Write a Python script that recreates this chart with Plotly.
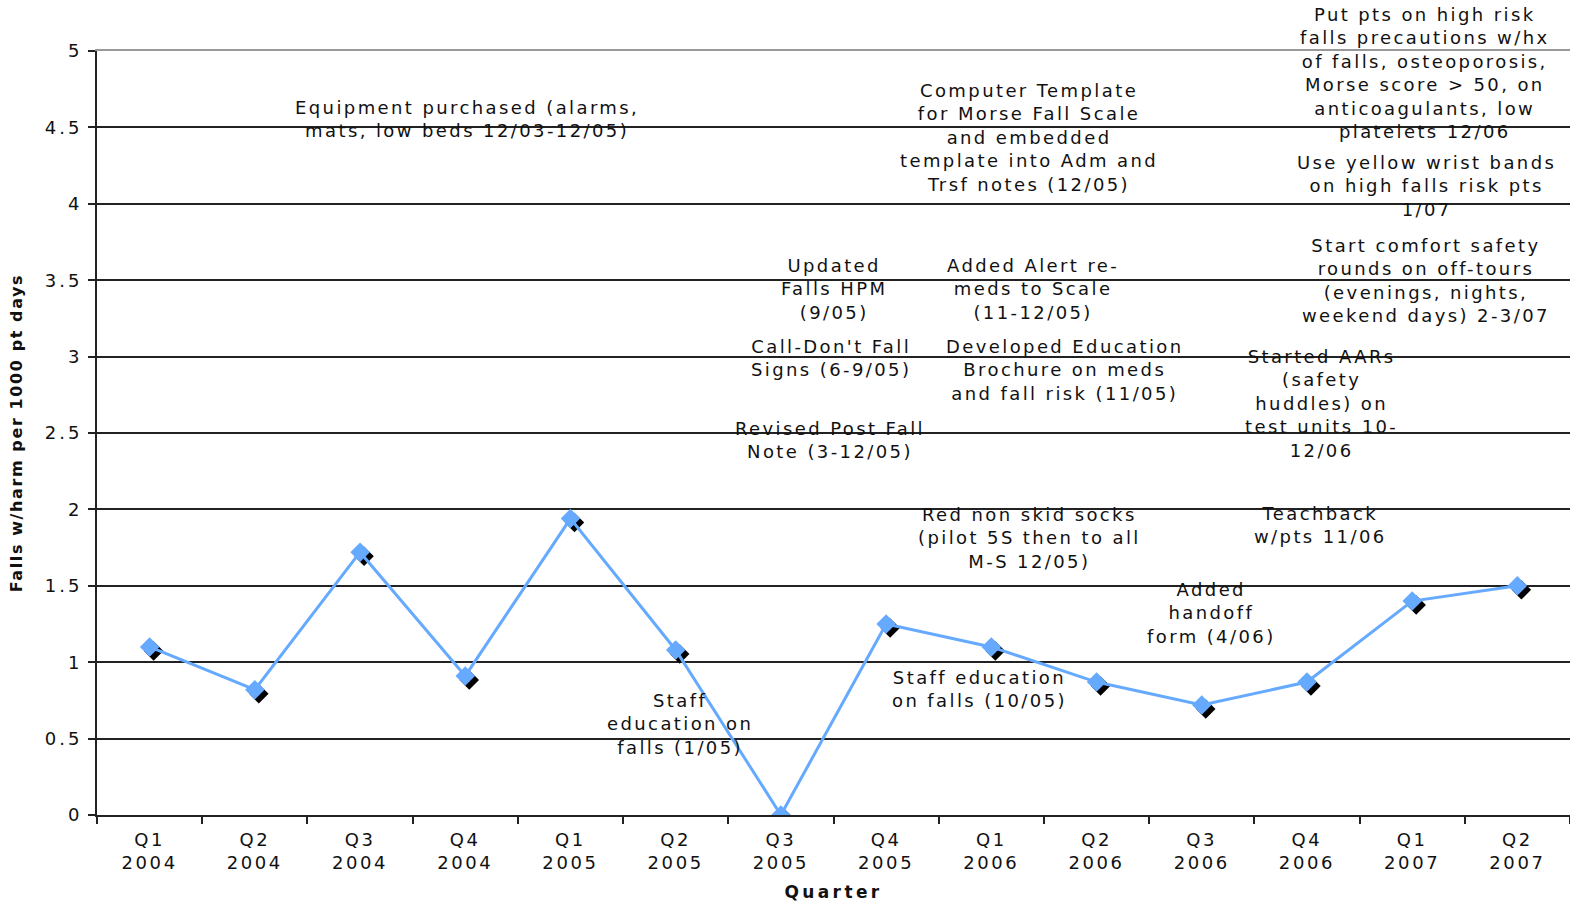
import plotly.graph_objects as go

quarters = ["Q1<br>2004", "Q2<br>2004", "Q3<br>2004", "Q4<br>2004",
            "Q1<br>2005", "Q2<br>2005", "Q3<br>2005", "Q4<br>2005",
            "Q1<br>2006", "Q2<br>2006", "Q3<br>2006", "Q4<br>2006",
            "Q1<br>2007", "Q2<br>2007"]
falls_rate = [1.10, 0.82, 1.72, 0.91, 1.94, 1.08, 0.0, 1.25, 1.10, 0.87, 0.72, 0.87, 1.40, 1.50]
y_ticks = [0, 0.5, 1, 1.5, 2, 2.5, 3, 3.5, 4, 4.5, 5]
y_ticktext = ["0", "0.5", "1", "1.5", "2", "2.5", "3", "3.5", "4", "4.5", "5"]

notes = [
    "Equipment purchased (alarms,<br>mats, low beds 12/03-12/05)",
    "Computer Template<br>for Morse Fall Scale<br>and embedded<br>template into Adm and<br>Trsf notes (12/05)",
    "Put pts on high risk<br>falls precautions w/hx<br>of falls, osteoporosis,<br>Morse score > 50, on<br>anticoagulants, low<br>platelets 12/06",
    "Use yellow wrist bands<br>on high falls risk pts<br>1/07",
    "Start comfort safety<br>rounds on off-tours<br>(evenings, nights,<br>weekend days) 2-3/07",
    "Updated<br>Falls HPM<br>(9/05)",
    "Added Alert re-<br>meds to Scale<br>(11-12/05)",
    "Call-Don't Fall<br>Signs (6-9/05)",
    "Developed Education<br>Brochure on meds<br>and fall risk (11/05)",
    "Revised Post Fall<br>Note (3-12/05)",
    "Started AARs<br>(safety<br>huddles) on<br>test units 10-<br>12/06",
    "Red non skid socks<br>(pilot 5S then to all<br>M-S 12/05)",
    "Teachback<br>w/pts 11/06",
    "Added<br>handoff<br>form (4/06)",
    "Staff education<br>on falls (10/05)",
    "Staff<br>education on<br>falls (1/05)",
]
note_x = [3.02, 8.36, 12.12, 12.14, 12.13, 6.50, 8.40, 6.48, 8.70, 6.47, 11.14, 8.36, 11.13, 10.09, 7.89, 5.04]
note_y = [4.555, 4.437, 4.856, 4.116, 3.501, 3.442, 3.442, 2.991, 2.912, 2.454, 2.690, 1.813, 1.898, 1.322, 0.825, 0.596]

FONT = "DejaVu Sans"
BLUE = "#66AAFF"
LS = "letter-spacing:2.4px"


def spaced(s, ls=LS):
    return "<br>".join(f'<span style="{ls}">{part}</span>' for part in s.split("<br>"))


idx = list(range(len(quarters)))

# pixel offsets for marker shadow, converted to axis units
plot_w, plot_h = 1473, 764
dx = 4 / (plot_w / 14)
dy = 4 / (plot_h / 5)

fig = go.Figure()
# invisible trace anchoring the main axes
fig.add_trace(go.Scatter(x=idx, y=falls_rate, mode="markers",
                         marker=dict(opacity=0), hoverinfo="skip", showlegend=False))
# shadow markers
fig.add_trace(go.Scatter(x=idx, y=falls_rate, mode="markers", xaxis="x2", yaxis="y2",
                         marker=dict(symbol="diamond", size=15, color="black"),
                         showlegend=False))
# main series
fig.add_trace(go.Scatter(x=idx, y=falls_rate, mode="lines+markers", xaxis="x3", yaxis="y3",
                         line=dict(color=BLUE, width=3),
                         marker=dict(symbol="diamond", size=15, color=BLUE),
                         showlegend=False))

for t, x, y in zip(notes, note_x, note_y):
    fig.add_annotation(text=spaced(t), x=x, y=y, xref="x3", yref="y3", showarrow=False,
                       font=dict(family=FONT, size=18, color="#111"), align="center")

fig.update_layout(
    width=1570, height=902,
    margin=dict(l=97, r=0, t=51, b=87),
    plot_bgcolor="white", paper_bgcolor="white",
    font=dict(family=FONT, size=18, color="#111"),
    xaxis=dict(range=[-0.5, 13.5], tickvals=idx,
               ticktext=[spaced(q, "letter-spacing:2.6px") for q in quarters],
               ticks="", showline=True, linecolor="#222", linewidth=2, showgrid=False,
               zeroline=False, ticklabelstandoff=7,
               minor=dict(tick0=-0.5, dtick=1, ticks="outside", ticklen=7, tickwidth=2,
                          tickcolor="#222", showgrid=False),
               tickfont=dict(size=18),
               title=dict(text="<b>" + spaced("Quarter", "letter-spacing:3.4px") + "</b>",
                          font=dict(size=17), standoff=14)),
    yaxis=dict(range=[0, 5], tickvals=y_ticks,
               ticktext=[spaced(t, "letter-spacing:3px") for t in y_ticktext],
               ticks="outside", ticklen=7, tickwidth=2, tickcolor="#222",
               showline=True, linecolor="#222", linewidth=2,
               showgrid=True, gridcolor="#222", gridwidth=1.6, zeroline=False,
               tickfont=dict(size=18), ticklabelstandoff=2,
               title=dict(text="<b>" + spaced("Falls w/harm per 1000 pt days", "letter-spacing:1.6px") + "</b>",
                          font=dict(size=16), standoff=18)),
    xaxis2=dict(overlaying="x", range=[-0.5 - dx, 13.5 - dx], visible=False),
    yaxis2=dict(overlaying="y", range=[dy, 5 + dy], visible=False),
    xaxis3=dict(overlaying="x", side="top", range=[-0.5, 13.5], showline=True,
                linecolor="#999", linewidth=2, showticklabels=False, ticks="", showgrid=False,
                zeroline=False),
    yaxis3=dict(overlaying="y", range=[0, 5], visible=False),
)

fig.write_html("out.html")
